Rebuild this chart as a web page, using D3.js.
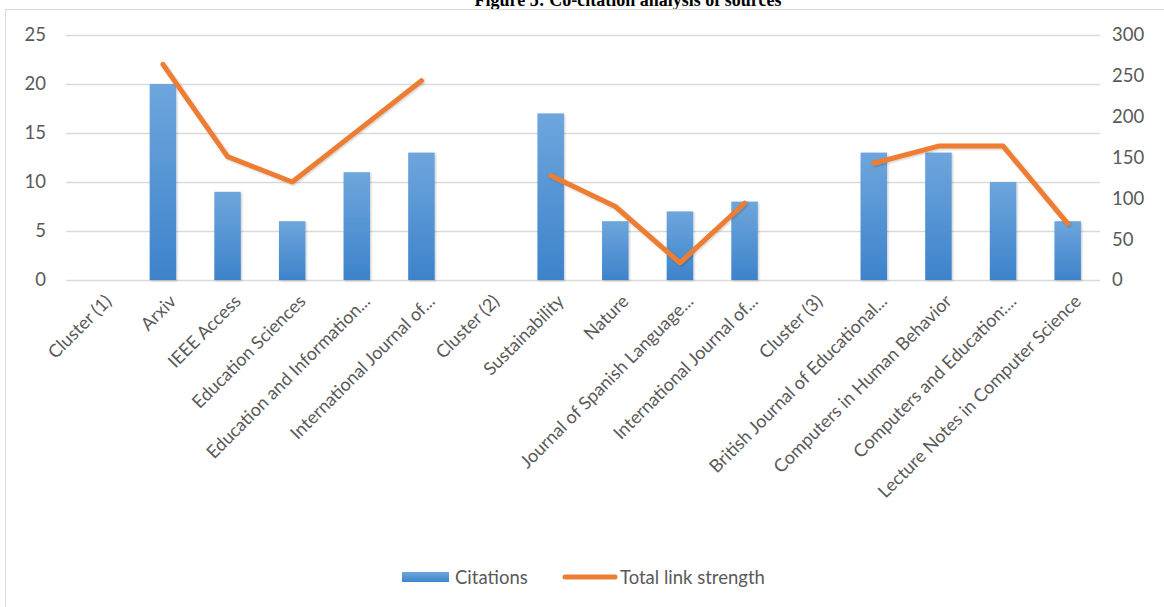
<!DOCTYPE html>
<html>
<head>
<meta charset="utf-8">
<script src="https://cdn.jsdelivr.net/npm/d3@7"></script>
<style>
  html, body { margin: 0; padding: 0; background: #fff; }
  svg { display: block; }
  text { font-family: Lato, "Open Sans", sans-serif; fill: #595959; }
</style>
</head>
<body>
<svg id="chart" width="1164" height="607"></svg>
<script>
const categories = [
  "Cluster (1)", "Arxiv", "IEEE Access", "Education Sciences",
  "Education and Information...", "International Journal of...",
  "Cluster (2)", "Sustainability", "Nature", "Journal of Spanish Language...",
  "International Journal of...", "Cluster (3)", "British Journal of Educational...",
  "Computers in Human Behavior", "Computers and Education:...",
  "Lecture Notes in Computer Science"
];
const citations = [0, 20, 9, 6, 11, 13, 0, 17, 6, 7, 8, 0, 13, 13, 10, 6];
const linkStrength = [null, 264, 151, 120, 182, 244, null, 128, 90, 21, 94, null, 143, 164, 164, 69];
const leftTicks = [0, 5, 10, 15, 20, 25];
const rightTicks = [0, 50, 100, 150, 200, 250, 300];
const seriesNames = ["Citations", "Total link strength"];
const titleText = "Figure 5: Co-citation analysis of sources";

const svg = d3.select("#chart");
const m = { left: 66, right: 1100, top: 35, bottom: 280 };

const defs = svg.append("defs");
const grad = defs.append("linearGradient").attr("id", "barGrad")
  .attr("x1", 0).attr("y1", 0).attr("x2", 0).attr("y2", 1);
grad.append("stop").attr("offset", "0%").attr("stop-color", "#6ea6dc");
grad.append("stop").attr("offset", "100%").attr("stop-color", "#3d83cb");
const sh = defs.append("filter").attr("id", "shadow").attr("x", "-20%").attr("y", "-10%").attr("width", "140%").attr("height", "130%");
sh.append("feDropShadow").attr("dx", 1).attr("dy", 1).attr("stdDeviation", 1.2)
  .attr("flood-color", "#000").attr("flood-opacity", 0.22);

// title (partly cut at top, as in the reference)
svg.append("text").attr("x", 628).attr("y", 6)
  .attr("text-anchor", "middle")
  .style("font-family", "'Liberation Serif', 'DejaVu Serif', serif")
  .style("font-weight", "bold").style("font-size", "18px").style("fill", "#000")
  .text(titleText);

// chart border
svg.append("rect").attr("x", 5.5).attr("y", 9.5).attr("width", 1170).attr("height", 620)
  .attr("fill", "none").attr("stroke", "#d9d9d9").attr("stroke-width", 1);

const idx = d3.range(categories.length);
const x = d3.scaleBand().domain(idx).range([m.left, m.right]).paddingInner(0.59).paddingOuter(0.295);
const yL = d3.scaleLinear().domain([0, 25]).range([m.bottom, m.top]);
const yR = d3.scaleLinear().domain([0, 300]).range([m.bottom, m.top]);

// gridlines
svg.append("g").selectAll("line").data(leftTicks).join("line")
  .attr("x1", m.left).attr("x2", m.right)
  .attr("y1", d => Math.round(yL(d)) + 0.5).attr("y2", d => Math.round(yL(d)) + 0.5)
  .attr("stroke", "#d9d9d9").attr("stroke-width", 1.3);

// left axis
const gL = svg.append("g").attr("transform", `translate(${m.left},0)`)
  .call(d3.axisLeft(yL).tickValues(leftTicks).tickSize(0).tickPadding(20));
gL.select(".domain").remove();
gL.selectAll("text").style("font-size", "18.5px").style("fill", "#595959").style("font-family", "Lato, sans-serif");

// right axis
const gR = svg.append("g").attr("transform", `translate(${m.right},0)`)
  .call(d3.axisRight(yR).tickValues(rightTicks).tickSize(0).tickPadding(12));
gR.select(".domain").remove();
gR.selectAll("text").style("font-size", "18.5px").style("fill", "#595959").style("font-family", "Lato, sans-serif");

// bars
svg.append("g").selectAll("rect").data(idx.filter(i => citations[i] > 0))
  .join("rect")
  .attr("x", i => x(i))
  .attr("width", x.bandwidth())
  .attr("y", i => yL(citations[i]))
  .attr("height", i => yL(0) - yL(citations[i]))
  .attr("fill", "url(#barGrad)")
  .attr("filter", "url(#shadow)");

// line
const line = d3.line().defined(i => linkStrength[i] !== null)
  .x(i => x(i) + x.bandwidth() / 2).y(i => yR(linkStrength[i]));
svg.append("path").datum(idx).attr("d", line)
  .attr("fill", "none").attr("stroke", "#ed7d31").attr("stroke-width", 5)
  .attr("stroke-linejoin", "round").attr("stroke-linecap", "round")
  .attr("filter", "url(#shadow)");

// x axis labels
const gX = svg.append("g").attr("transform", `translate(0,${m.bottom})`)
  .call(d3.axisBottom(x).tickSize(0).tickPadding(0).tickFormat(i => categories[i]));
gX.select(".domain").remove();
gX.selectAll(".tick text")
  .attr("text-anchor", "end")
  .attr("transform", "translate(10,18) rotate(-45)")
  .attr("dy", "0.35em")
  .attr("y", 0)
  .style("font-size", "18px").style("fill", "#595959").style("font-family", "Lato, sans-serif");

// legend
const lg = svg.append("g");
lg.append("rect").attr("x", 402).attr("y", 572).attr("width", 47).attr("height", 10).attr("fill", "url(#barGrad)");
lg.append("text").attr("x", 455).attr("y", 584).style("font-size", "18.5px").text(seriesNames[0]);
lg.append("line").attr("x1", 565).attr("x2", 615).attr("y1", 577).attr("y2", 577)
  .attr("stroke", "#ed7d31").attr("stroke-width", 5).attr("stroke-linecap", "round");
lg.append("text").attr("x", 620).attr("y", 584).style("font-size", "18.5px").text(seriesNames[1]);
</script>
</body>
</html>
